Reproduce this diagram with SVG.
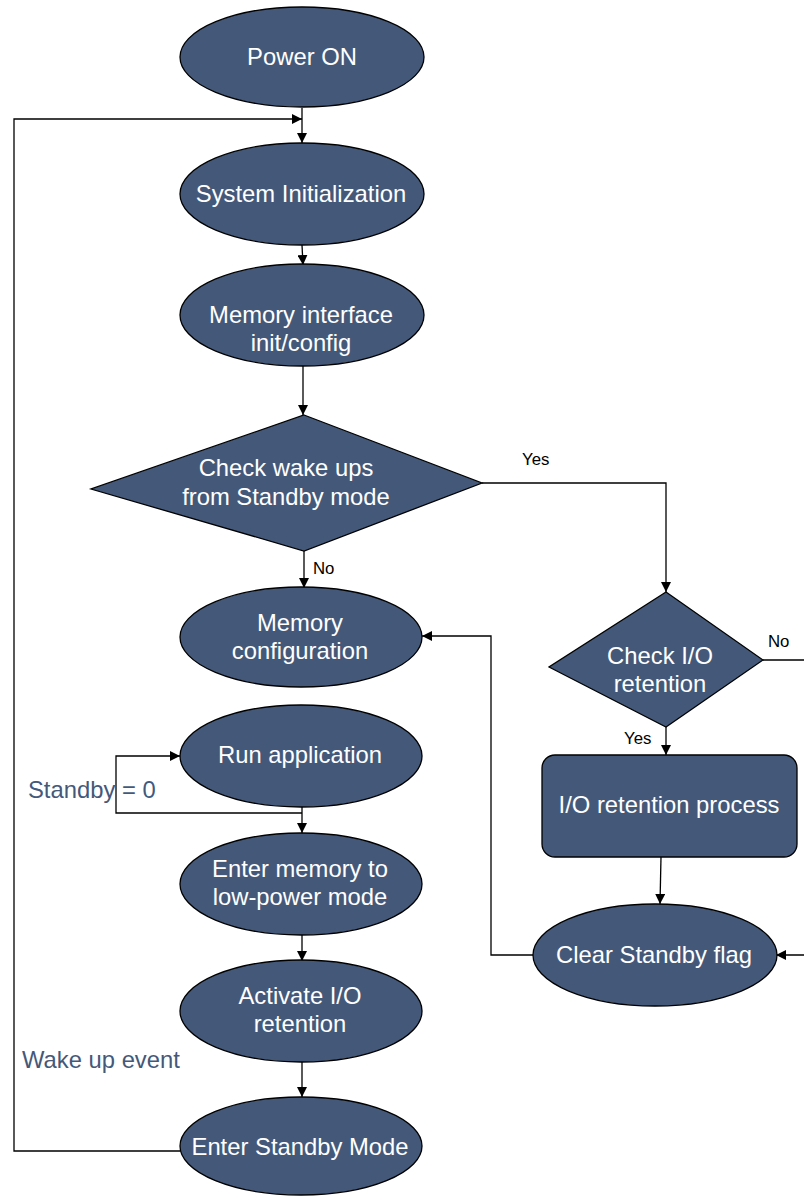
<svg xmlns="http://www.w3.org/2000/svg" width="804" height="1196" viewBox="0 0 804 1196">
<style>
.n{fill:#44597a;stroke:#000;stroke-width:1.3}
.t{fill:#fff;font-family:"Liberation Sans",Arial,sans-serif;font-size:23.8px;text-anchor:middle}
.c{fill:none;stroke:#000;stroke-width:1.3}
.s{fill:#000;font-family:"Liberation Sans",Arial,sans-serif;font-size:16.8px}
.b{fill:#44597a;font-family:"Liberation Sans",Arial,sans-serif;font-size:23.8px}
</style>
<defs>
<marker id="a" viewBox="0 0 10 10" refX="10" refY="5" markerWidth="10" markerHeight="10" markerUnits="userSpaceOnUse" orient="auto">
<path d="M0,0 L10,5 L0,10 z" fill="#000"/>
</marker>
</defs>
<rect width="804" height="1196" fill="#fff"/>
<g id="connectors">
<path class="c" d="M302,108 V143" marker-end="url(#a)"/>
<path class="c" d="M180,1151 H14 V119 H302" marker-end="url(#a)"/>
<path class="c" d="M302,245 L303,265" marker-end="url(#a)"/>
<path class="c" d="M303,366 V415" marker-end="url(#a)"/>
<path class="c" d="M304,551 V588" marker-end="url(#a)"/>
<path class="c" d="M482,483 H666 V592" marker-end="url(#a)"/>
<path class="c" d="M666,727 V755" marker-end="url(#a)"/>
<path class="c" d="M763,660 H806 V955 H776" marker-end="url(#a)"/>
<path class="c" d="M661,857 L660,904" marker-end="url(#a)"/>
<path class="c" d="M533,955 H491 V636 H422" marker-end="url(#a)"/>
<path class="c" d="M302,807 V833" marker-end="url(#a)"/>
<path class="c" d="M302,813 H116 V756 H180" marker-end="url(#a)"/>
<path class="c" d="M302,935 V961" marker-end="url(#a)"/>
<path class="c" d="M302,1062 V1097" marker-end="url(#a)"/>
<text class="s" x="522" y="465">Yes</text>
<text class="s" x="313" y="574">No</text>
<text class="s" x="768" y="647">No</text>
<text class="s" x="624" y="744">Yes</text>
<text class="b" x="28" y="798">Standby = 0</text>
<text class="b" x="22" y="1068">Wake up event</text>
</g>
<g id="power-on"><ellipse class="n" cx="302" cy="57" rx="122" ry="50"/><text class="t" x="302" y="65">Power ON</text></g>
<g id="system-init"><ellipse class="n" cx="302" cy="194" rx="122" ry="51"/><text class="t" x="301" y="202">System Initialization</text></g>
<g id="memory-interface"><ellipse class="n" cx="302" cy="315" rx="122" ry="51"/><text class="t" x="301" y="323">Memory interface</text><text class="t" x="301" y="351">init/config</text></g>
<g id="check-wakeups"><polygon class="n" points="304,415 482,483 304,551 91,489"/><text class="t" x="286" y="476">Check wake ups</text><text class="t" x="286" y="505">from Standby mode</text></g>
<g id="memory-configuration"><ellipse class="n" cx="301" cy="637" rx="121" ry="50"/><text class="t" x="300" y="631">Memory</text><text class="t" x="300" y="659">configuration</text></g>
<g id="check-io"><polygon class="n" points="666,592 763,660 666,727 549,667"/><text class="t" x="660" y="664">Check I/O</text><text class="t" x="660" y="692">retention</text></g>
<g id="io-retention-process"><rect class="n" x="542" y="755" width="255" height="102" rx="13"/><text class="t" x="669" y="813">I/O retention process</text></g>
<g id="clear-standby"><ellipse class="n" cx="655" cy="955" rx="122" ry="51"/><text class="t" x="654" y="963">Clear Standby flag</text></g>
<g id="run-application"><ellipse class="n" cx="301" cy="756" rx="121" ry="51"/><text class="t" x="300" y="763">Run application</text></g>
<g id="enter-memory-lp"><ellipse class="n" cx="301" cy="884" rx="121" ry="51"/><text class="t" x="300" y="877">Enter memory to</text><text class="t" x="300" y="905">low-power mode</text></g>
<g id="activate-io"><ellipse class="n" cx="301" cy="1011" rx="121" ry="51"/><text class="t" x="300" y="1004">Activate I/O</text><text class="t" x="300" y="1032">retention</text></g>
<g id="enter-standby"><ellipse class="n" cx="301" cy="1146" rx="121" ry="49"/><text class="t" x="300" y="1155">Enter Standby Mode</text></g>
</svg>
